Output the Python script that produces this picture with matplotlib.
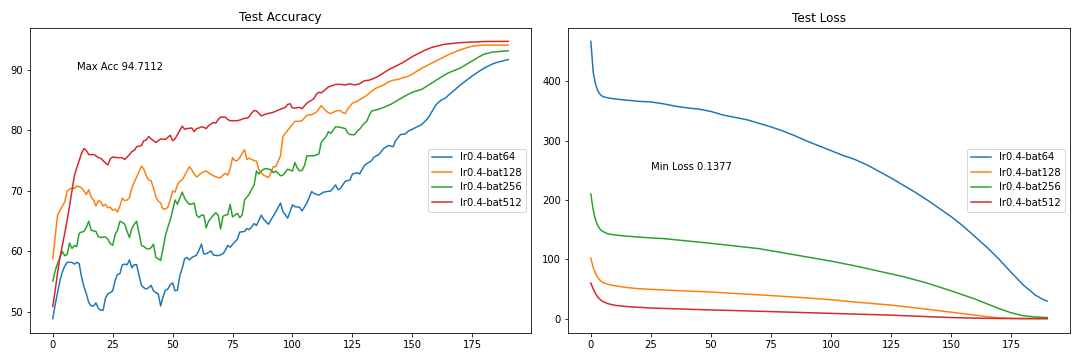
import matplotlib
matplotlib.use("Agg")
import matplotlib.pyplot as plt

labels = ["lr0.4-bat64", "lr0.4-bat128", "lr0.4-bat256", "lr0.4-bat512"]
colors = ["#1f77b4", "#ff7f0e", "#2ca02c", "#d62728"]

# ---------------- Test accuracy ----------------
acc64_ep = [0,1,2,3,4,5,6,8,9,10,11,12,13,14,15,16,17,18,19,20,21,22,23,24,25,26,27,28,29,30,31,32,33,34,35,36,37,38,39,40,41,42,43,44,45,46,47,48,49,50,51,52,53,54,55,56,57,58,60,61,62,63,64,66,67,69,71,72,73,74,76,77,78,80,81,82,84,85,87,88,90,91,93,95,96,98,100,101,103,104,106,108,109,111,113,116,118,119,120,122,124,125,127,128,130,131,133,134,136,138,140,142,143,145,147,148,150,152,154,156,157,158,160,162,164,165,168,170,172,175,178,180,183,185,188,190]
acc64 = [48.9,51.2,53.2,55.2,56.6,57.6,58.2,58.2,57.9,58.2,58.0,55.8,54.2,53.0,51.6,51.0,51.0,51.5,50.6,50.3,50.3,52.3,53.0,53.2,53.5,55.2,56.2,56.3,57.8,57.9,57.8,58.6,57.3,57.8,57.8,56.0,54.4,54.0,53.8,54.0,54.4,53.5,53.2,53.0,51.0,52.5,53.6,53.8,54.5,54.8,53.5,53.6,56.0,57.2,58.8,59.0,58.6,59.0,59.4,60.2,61.2,59.6,59.6,60.1,59.4,59.3,59.6,60.2,61.0,60.7,61.6,62.0,63.2,63.3,63.8,63.6,64.6,64.3,66.0,65.3,64.5,65.2,66.5,68.0,66.6,65.5,67.7,67.4,67.3,66.7,68.0,69.9,69.6,69.3,69.8,70.0,71.0,70.2,70.4,71.6,71.8,72.8,73.0,72.8,74.2,74.5,75.0,75.6,76.0,77.0,77.5,77.3,78.3,79.3,79.4,79.8,80.2,80.6,81.0,81.8,82.3,83.0,84.3,85.0,85.4,85.8,86.8,87.5,88.1,89.0,89.8,90.3,90.9,91.2,91.5,91.7]

acc128_ep = [0,1,2,3,4,5,6,7,8,9,10,11,12,13,14,15,16,17,18,19,20,21,22,23,24,25,26,27,28,29,30,31,32,33,34,35,36,37,38,39,40,41,42,43,44,45,46,47,48,49,50,51,52,53,54,56,57,58,59,60,61,62,64,65,67,69,70,71,72,73,74,75,76,77,78,79,80,81,82,84,85,86,87,88,90,91,92,93,95,96,97,99,100,101,103,104,106,108,110,112,113,115,116,118,120,121,122,123,125,127,129,131,133,135,138,140,142,144,146,148,150,152,155,158,160,163,165,168,170,173,175,178,180,185,190]
acc128 = [58.8,62.5,66.0,66.8,67.5,68.2,70.0,70.3,70.5,70.4,70.8,70.7,70.5,70.0,69.4,70.2,69.0,68.5,67.5,68.4,68.2,67.5,67.8,67.2,67.3,66.8,67.0,66.5,67.5,68.8,68.4,68.5,68.9,70.5,71.5,72.3,73.2,74.1,73.6,72.5,71.8,71.7,70.5,69.0,68.3,68.0,67.0,67.0,67.3,68.5,70.0,69.8,71.0,71.6,71.8,73.3,74.0,73.5,72.8,72.3,72.6,73.0,73.3,73.0,72.5,72.2,72.2,72.6,72.9,72.6,73.7,75.5,75.0,75.0,75.5,76.2,76.8,75.2,75.4,75.0,74.9,73.5,73.0,72.6,72.2,73.0,74.0,74.0,75.8,79.0,79.5,80.5,81.0,81.5,81.5,81.6,82.5,82.6,83.0,84.1,83.6,82.9,82.8,83.2,83.3,82.9,82.8,83.5,84.5,84.8,85.3,85.8,86.5,87.0,87.5,88.0,88.3,88.4,88.7,88.9,89.3,89.8,90.5,91.1,91.5,92.1,92.5,93.0,93.3,93.7,93.9,94.05,94.1,94.1,94.1]

acc256_ep = [0,1,2,3,4,5,6,7,8,9,10,11,12,13,14,15,16,17,18,19,20,22,23,24,25,26,27,28,29,30,31,32,33,34,35,36,37,38,39,40,41,42,43,44,45,46,47,48,49,50,51,52,53,54,55,56,57,58,59,60,61,62,63,64,65,66,67,68,69,70,71,72,73,74,75,76,77,78,79,80,81,82,83,84,85,86,87,88,89,90,91,92,93,95,96,98,100,101,102,103,104,105,106,108,109,111,112,114,115,116,118,120,122,123,124,126,127,128,130,131,132,133,135,136,138,141,144,147,150,154,158,162,165,170,175,178,180,183,185,190]
acc256 = [55.1,56.8,58.0,59.0,60.0,59.3,59.5,61.4,60.5,61.0,60.8,63.0,63.2,63.3,64.0,65.0,63.5,63.4,63.3,62.4,62.3,62.4,62.0,61.3,61.0,62.8,63.5,65.0,64.8,64.5,63.3,62.3,63.8,64.5,65.0,63.0,61.0,60.8,60.5,60.4,60.6,61.2,59.0,58.8,58.5,60.5,62.6,64.0,65.2,66.8,68.5,67.8,68.8,69.8,68.8,68.2,67.8,67.8,68.0,66.0,65.6,66.0,66.0,63.9,65.0,65.5,66.0,66.4,66.0,63.7,65.8,66.0,66.1,67.8,65.7,66.0,66.3,65.6,66.0,68.5,69.0,69.5,70.3,71.0,73.3,72.8,73.3,73.6,73.7,73.6,73.5,73.0,73.3,72.5,72.6,73.6,73.3,74.7,73.8,73.3,73.4,74.2,75.8,75.8,75.8,76.1,78.0,79.0,79.8,79.5,80.6,80.5,80.3,79.6,79.3,79.3,79.9,80.2,81.2,81.5,82.5,83.2,83.4,83.5,83.8,84.3,85.0,85.7,86.3,86.8,87.8,88.8,89.5,90.3,91.5,92.2,92.6,92.9,93.0,93.15]

acc512_ep = [0,1,2,3,4,5,6,7,8,9,10,11,12,13,14,15,16,17,18,19,20,21,22,23,24,25,27,29,30,31,32,33,34,35,36,37,38,39,40,41,42,43,44,45,47,49,50,51,52,53,54,55,56,58,59,60,61,62,63,64,65,67,68,69,70,72,73,74,77,78,80,81,82,83,84,85,86,87,89,92,95,97,98,99,100,101,103,104,106,108,109,110,111,112,113,115,116,118,120,122,124,125,126,128,130,132,134,136,138,140,142,144,146,148,150,152,155,158,160,163,165,170,175,180,185,190]
acc512 = [50.9,53.5,56.5,59.0,61.0,63.0,65.2,67.5,70.0,72.5,73.8,75.0,76.2,77.0,76.7,76.0,76.0,76.0,75.8,75.5,75.4,75.0,74.6,74.3,75.3,75.6,75.5,75.5,75.2,75.6,76.0,76.5,76.7,77.3,77.4,77.5,78.3,78.4,79.0,78.6,78.3,78.0,78.3,78.6,78.5,79.2,78.3,78.6,79.3,80.0,80.7,80.2,80.3,80.4,79.8,80.3,80.4,80.6,80.5,80.3,80.8,81.3,81.2,81.8,82.2,82.2,81.8,81.6,81.6,81.7,82.0,82.0,82.3,82.9,83.3,83.2,82.8,82.4,82.7,83.0,83.5,83.8,84.3,84.4,83.7,83.7,83.8,83.6,84.5,85.0,85.3,86.0,86.3,86.2,86.5,87.2,87.3,87.6,87.6,87.5,87.7,87.6,87.5,87.7,88.2,88.3,88.6,89.0,89.5,90.0,90.4,90.8,91.2,91.7,92.2,92.6,93.2,93.7,93.9,94.2,94.3,94.5,94.6,94.68,94.7,94.71]

# ---------------- Test loss ----------------
loss64_ep = [0,1,2,3,4,5,7,10,15,20,25,30,35,40,45,50,55,60,65,70,75,80,85,90,95,100,105,110,115,120,125,130,135,140,145,150,155,160,165,170,175,180,185,188,190]
loss64 = [467,415,394,383,377,374,372,370,368,366,365,362,358,355,353,349,343,339,335,329,323,316,308,299,291,283,275,268,259,248,237,225,213,200,186,172,156,138,120,100,78,57,40,33,29.6]

loss128_ep = [0,1,2,3,4,5,7,10,15,20,25,35,50,60,75,90,100,110,125,140,150,160,165,170,175,180,190]
loss128 = [102,86,76,69,64,61,58,55.5,52.5,50.5,49.5,47.5,45,42.5,39,35,32,28,23,16,11,6,3.5,1.5,0.6,0.3,0.14]

loss256_ep = [0,1,2,3,4,5,7,10,15,20,25,30,40,50,60,70,80,90,100,110,120,130,140,150,155,160,165,170,175,180,185,190]
loss256 = [210,183,166,156,150,147,143,141,139,137.5,136,135,131,127,122.5,118,111,104,97,89,80,71,60,47,40,33,25,17,10,5,3,2]

loss512_ep = [0,1,2,3,4,5,7,10,15,25,40,50,75,100,125,140,150,160,170,180,190]
loss512 = [60,50,42,36,32,29,25.5,22.5,20.5,18,16,14.8,12,9,6,3.5,2,1,0.4,0.2,0.2]

max_acc_text = "Max Acc 94.7112"
min_loss_text = "Min Loss 0.1377"

fig = plt.figure(figsize=(15, 5), dpi=72)
ax1 = fig.add_axes([30/1080, 27.5/360, 501/1080, 305/360])
ax2 = fig.add_axes([568/1080, 27.5/360, 502/1080, 305/360])

acc_eps = [acc64_ep, acc128_ep, acc256_ep, acc512_ep]
acc_vals = [acc64, acc128, acc256, acc512]
for e, v, lab, c in zip(acc_eps, acc_vals, labels, colors):
    ax1.plot(e, v, label=lab, color=c, linewidth=1.5)
ax1.set_title("Test Accuracy", fontsize=12)
ax1.text(10, 90, max_acc_text, fontsize=10)
ax1.legend(loc="center right", fontsize=10)

loss_eps = [loss64_ep, loss128_ep, loss256_ep, loss512_ep]
loss_vals = [loss64, loss128, loss256, loss512]
for e, v, lab, c in zip(loss_eps, loss_vals, labels, colors):
    ax2.plot(e, v, label=lab, color=c, linewidth=1.5)
ax2.set_title("Test Loss", fontsize=12)
ax2.text(25, 250, min_loss_text, fontsize=10)
ax2.legend(loc="center right", fontsize=10)

fig.savefig("out.png", dpi=72)
